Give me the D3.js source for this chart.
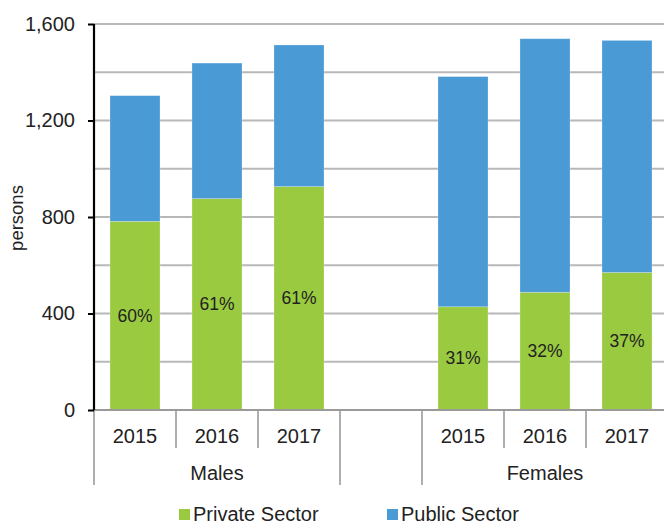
<!DOCTYPE html>
<html>
<head>
<meta charset="utf-8">
<script src="https://cdn.jsdelivr.net/npm/d3@7"></script>
<style>
  body { margin: 0; background: #fff; }
  svg { display: block; font-family: "Liberation Sans", Arial, sans-serif; }
</style>
</head>
<body>
<svg id="chart" width="664" height="526"></svg>
<script>
// ---- data ----
const groups = ["Males", "Females"];
const years = ["2015", "2016", "2017"];
const slots = ["Males|2015", "Males|2016", "Males|2017", "gap", "Females|2015", "Females|2016", "Females|2017"];
const privateSector = [782, 876, 926, 428, 488, 570];
const publicSector = [521, 562, 587, 954, 1051, 962];
const shareLabels = ["60%", "61%", "61%", "31%", "32%", "37%"];
const yTicks = [0, 400, 800, 1200, 1600];
const gridValues = [0, 200, 400, 600, 800, 1000, 1200, 1400, 1600];
const seriesNames = ["Private Sector", "Public Sector"];
const colors = ["#9aca40", "#4a9ad5"];

const barKeys = [];
groups.forEach(g => years.forEach(y => barKeys.push(g + "|" + y)));
const rows = barKeys.map((k, i) => ({ key: k, priv: privateSector[i], pub: publicSector[i], label: shareLabels[i] }));

// ---- layout ----
const svg = d3.select("#chart");
const x0 = 94, plotRight = 664, yBase = 410, yTop = 24;
const x = d3.scaleBand().domain(slots).range([x0, x0 + 82 * 7]).padding(0);
const y = d3.scaleLinear().domain([0, 1600]).range([yBase, yTop]);
const barW = x.bandwidth() * 50 / 82;
const barOff = (x.bandwidth() - barW) / 2;

// gridlines
svg.append("g").selectAll("line").data(gridValues.filter(v => v > 0)).join("line")
  .attr("x1", x0).attr("x2", plotRight)
  .attr("y1", d => y(d)).attr("y2", d => y(d))
  .attr("stroke", "#b8b8b8").attr("stroke-width", 1.8);

// stacked bars
const stack = d3.stack().keys(["priv", "pub"])(rows);
svg.append("g").selectAll("g").data(stack).join("g")
  .attr("fill", (d, i) => colors[i])
  .selectAll("rect").data(d => d).join("rect")
  .attr("x", d => x(d.data.key) + barOff)
  .attr("width", barW)
  .attr("y", d => y(d[1]))
  .attr("height", d => y(d[0]) - y(d[1]))
  .attr("stroke", "rgba(255,255,255,0.3)").attr("stroke-width", 0.8);

// share labels
svg.append("g").selectAll("text").data(rows).join("text")
  .attr("x", d => x(d.key) + x.bandwidth() / 2)
  .attr("y", d => y(d.priv / 2))
  .attr("dy", "0.35em")
  .attr("text-anchor", "middle")
  .attr("font-size", 17.5).attr("fill", "#222")
  .text(d => d.label);

// x baseline
svg.append("line").attr("x1", x0).attr("x2", plotRight)
  .attr("y1", yBase).attr("y2", yBase)
  .attr("stroke", "#9a9a9a").attr("stroke-width", 2);

// category separators
const longSep = new Set([0, 3, 4, 7]);
const sepIdx = d3.range(0, 8);
svg.append("g").selectAll("line").data(sepIdx).join("line")
  .attr("x1", i => x0 + x.step() * i).attr("x2", i => x0 + x.step() * i)
  .attr("y1", yBase).attr("y2", i => longSep.has(i) ? 485 : 448)
  .attr("stroke", "#9a9a9a").attr("stroke-width", 1.6);

// year labels
svg.append("g").selectAll("text").data(barKeys).join("text")
  .attr("x", d => x(d) + x.bandwidth() / 2)
  .attr("y", 443)
  .attr("text-anchor", "middle")
  .attr("font-size", 20).attr("fill", "#222")
  .text(d => d.split("|")[1]);

// group labels
svg.append("g").selectAll("text").data(groups).join("text")
  .attr("x", g => (x(g + "|2015") + x(g + "|2017") + x.bandwidth()) / 2)
  .attr("y", 480)
  .attr("text-anchor", "middle")
  .attr("font-size", 20).attr("fill", "#222")
  .text(g => g);

// y axis
const yAxis = d3.axisLeft(y).tickValues(yTicks).tickFormat(d3.format(",")).tickSize(6).tickPadding(13);
const ga = svg.append("g").attr("transform", `translate(${x0},0)`).call(yAxis);
ga.select(".domain").attr("stroke", "#000").attr("stroke-width", 2.2).attr("d", `M0,${yBase}V${yTop}`);
ga.selectAll(".tick line").attr("stroke", "#000").attr("stroke-width", 2);
ga.selectAll(".tick text").attr("font-size", 20).attr("fill", "#222")
  .attr("font-family", "Liberation Sans, Arial, sans-serif");

// y title
svg.append("text")
  .attr("transform", `translate(23,218) rotate(-90)`)
  .attr("text-anchor", "middle")
  .attr("font-size", 18.5).attr("fill", "#222")
  .text("persons");

// legend
const legendX = [179, 387];
const lg = svg.append("g").selectAll("g").data(seriesNames).join("g")
  .attr("transform", (d, i) => `translate(${legendX[i]},0)`);
lg.append("rect").attr("x", 0).attr("y", 509).attr("width", 11).attr("height", 11)
  .attr("fill", (d, i) => colors[i]);
lg.append("text").attr("x", 14).attr("y", 521)
  .attr("font-size", 20).attr("fill", "#222").text(d => d);
</script>
</body>
</html>
